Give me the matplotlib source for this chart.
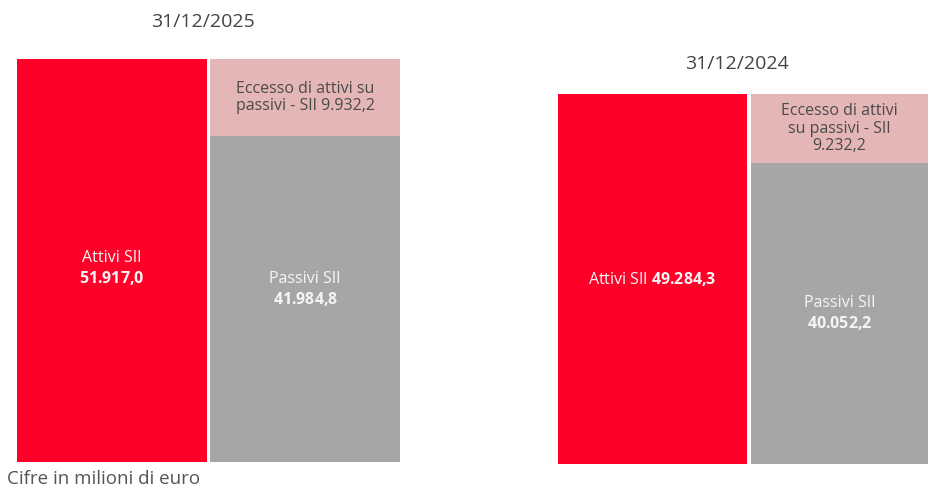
import matplotlib.pyplot as plt

plt.rcParams['font.family'] = ['Open Sans', 'DejaVu Sans']
plt.rcParams['mathtext.fontset'] = 'custom'
plt.rcParams['mathtext.rm'] = 'Open Sans'
plt.rcParams['mathtext.bf'] = 'Open Sans:bold'

# dati (milioni di euro)
dates = ['31/12/2025', '31/12/2024']
attivi = [51917.0, 49284.3]
passivi = [41984.8, 40052.2]
eccesso = [9932.2, 9232.2]

attivi_lbl = ['51.917,0', '49.284,3']
passivi_lbl = ['41.984,8', '40.052,2']
eccesso_lbl = ['Eccesso di attivi su\npassivi - SII 9.932,2',
               'Eccesso di attivi\nsu passivi - SII\n9.232,2']

RED = '#FF0029'
PINK = '#E5B6B6'
GREY = '#A6A6A6'
LIGHT = '#F5F5F5'

W, H = 929, 488
fig = plt.figure(figsize=(W / 100, H / 100), dpi=100)

# posizioni assi in pixel: (x0, x1, ytop, ybottom)
boxes = [(17, 400, 59, 462), (558, 928, 94, 464)]
title_y = [22, 64]
w2 = [1.0, 0.937]   # larghezza relativa della seconda colonna
ya_frac = [0.48, 0.5]
yp_frac = [0.529, 0.5]
sep = ['\n', ' ']
FS = 11.5


def bold(s):
    return '$\\mathbf{' + s.replace(',', '{,}') + '}$'


for i, (x0, x1, yt, yb) in enumerate(boxes):
    ax = fig.add_axes([x0 / W, (H - yb) / H, (x1 - x0) / W, (yb - yt) / H])
    ax.bar(0, attivi[i], width=1, align='edge', color=RED)
    ax.bar(1.02, passivi[i], width=w2[i], align='edge', color=GREY)
    ax.bar(1.02, eccesso[i], bottom=passivi[i], width=w2[i], align='edge', color=PINK)
    ax.set_xlim(0, 1.02 + w2[i])
    ax.set_ylim(0, attivi[i])
    ax.axis('off')
    xc2 = 1.02 + w2[i] / 2

    ax.text(0.5, attivi[i] * ya_frac[i], 'Attivi SII' + sep[i] + bold(attivi_lbl[i]),
            ha='center', va='center', color=LIGHT, fontsize=FS, linespacing=1.25)
    ax.text(xc2, passivi[i] * yp_frac[i], 'Passivi SII\n' + bold(passivi_lbl[i]),
            ha='center', va='center', color=LIGHT, fontsize=FS, linespacing=1.25)
    ax.text(xc2, passivi[i] + eccesso[i] / 2, eccesso_lbl[i], ha='center', va='center',
            color='#4A4A4A', fontsize=FS, linespacing=1.15)

    fig.text((x0 + x1) / 2 / W - 0.006, 1 - title_y[i] / H, dates[i], ha='center',
             va='center', fontsize=14, color='#444444')

fig.text(7 / W, 1 - 479 / H, 'Cifre in milioni di euro', ha='left', va='center',
         fontsize=13.5, color='#555555')

plt.savefig('out.png', dpi=100)
